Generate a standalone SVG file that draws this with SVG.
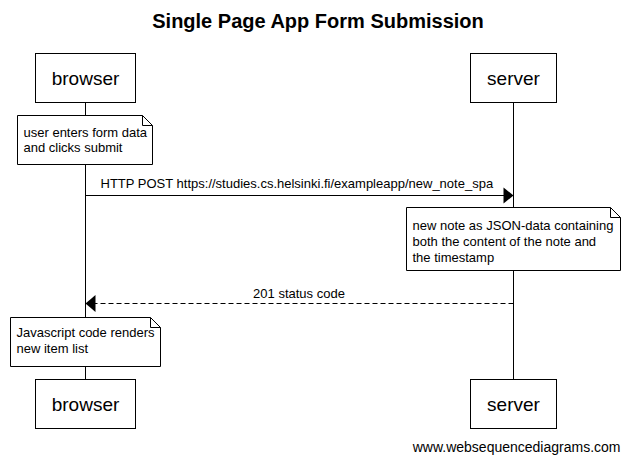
<svg xmlns="http://www.w3.org/2000/svg" width="630" height="463" viewBox="0 0 630 463">
<style>
text{font-family:"Liberation Sans",Arial,sans-serif;fill:#000}
.title{font-size:20px;font-weight:bold}
.actor{font-size:19px}
.note text,.lbl{font-size:13px}
.box{fill:#fff;stroke:#000;stroke-width:1}
.life{stroke:#000;stroke-width:1}
.msg{stroke:#000;stroke-width:1;fill:none}
.dash{stroke-dasharray:5,3}
.wm{font-size:14px}
</style>
<rect width="630" height="463" fill="#fff"/>
<text class="title" x="318" y="28" text-anchor="middle">Single Page App Form Submission</text>
<g id="lifelines">
<line class="life" x1="85.5" y1="102.5" x2="85.5" y2="379.5"/>
<line class="life" x1="513.5" y1="102.5" x2="513.5" y2="379.5"/>
</g>
<g id="browser-top"><rect class="box" x="35.5" y="53.5" width="100" height="49"/><text class="actor" x="85.5" y="85" text-anchor="middle">browser</text></g>
<g id="server-top"><rect class="box" x="470.5" y="53.5" width="86" height="49"/><text class="actor" x="513.5" y="85" text-anchor="middle">server</text></g>
<g id="browser-bottom"><rect class="box" x="35.5" y="379.5" width="100" height="49"/><text class="actor" x="85.5" y="411" text-anchor="middle">browser</text></g>
<g id="server-bottom"><rect class="box" x="470.5" y="379.5" width="86" height="49"/><text class="actor" x="513.5" y="411" text-anchor="middle">server</text></g>
<g id="note1" class="note">
<path class="box" d="M17.5,115.5 H142.5 L152.5,125.5 V164.5 H17.5 Z"/>
<path class="msg" d="M142.5,115.5 V125.5 H152.5"/>
<text x="23.5" y="137">user enters form data</text>
<text x="23.5" y="152">and clicks submit</text>
</g>
<g id="note2" class="note">
<path class="box" d="M406.5,207.5 H610.5 L620.5,217.5 V270.5 H406.5 Z"/>
<path class="msg" d="M610.5,207.5 V217.5 H620.5"/>
<text x="412.5" y="230">new note as JSON-data containing</text>
<text x="412.5" y="246">both the content of the note and</text>
<text x="412.5" y="262">the timestamp</text>
</g>
<g id="note3" class="note">
<path class="box" d="M10.5,317.5 H150.5 L160.5,327.5 V366.5 H10.5 Z"/>
<path class="msg" d="M150.5,317.5 V327.5 H160.5"/>
<text x="16.5" y="337">Javascript code renders</text>
<text x="16.5" y="353">new item list</text>
</g>
<g id="connectors">
<line class="msg" x1="85.5" y1="195.5" x2="505" y2="195.5"/>
<polygon points="503.5,187.5 513.5,195.5 503.5,203.5" fill="#000"/>
<text class="lbl" x="100.5" y="188">HTTP POST https://studies.cs.helsinki.fi/exampleapp/new_note_spa</text>
<line class="msg dash" x1="513.5" y1="303.5" x2="94" y2="303.5"/>
<polygon points="95.5,295 85.5,303.5 95.5,312" fill="#000"/>
<text class="lbl" x="299" y="298" text-anchor="middle">201 status code</text>
</g>
<text class="wm" x="620.5" y="452" text-anchor="end">www.websequencediagrams.com</text>
</svg>
